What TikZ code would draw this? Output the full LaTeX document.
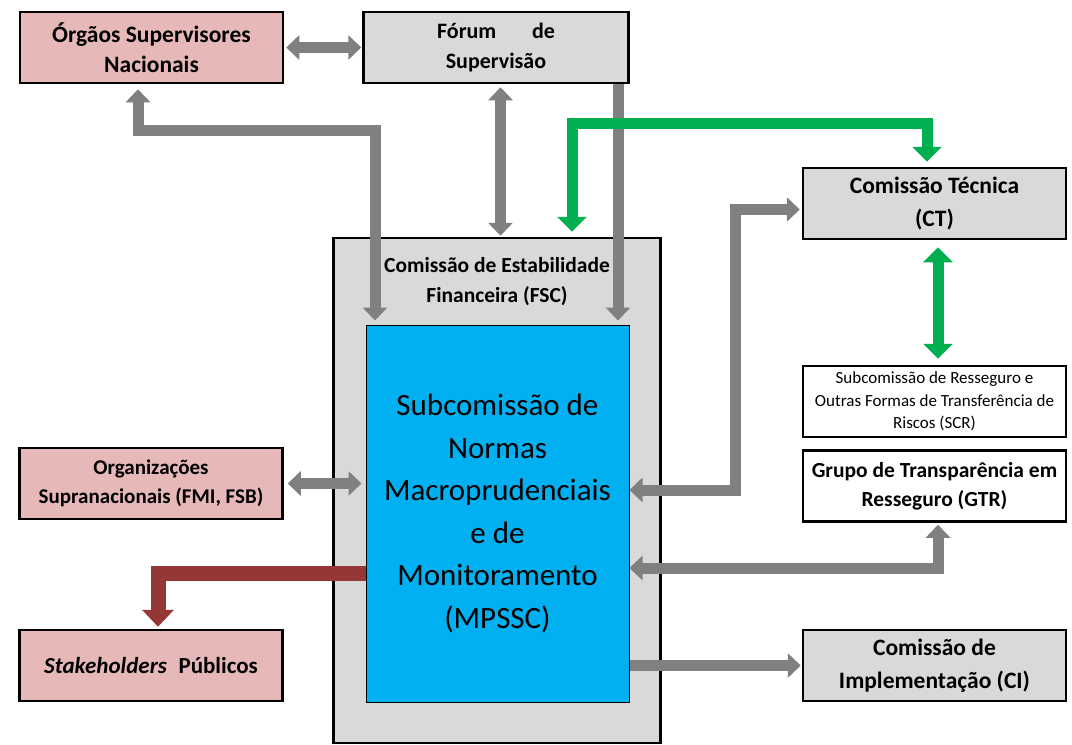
\documentclass[tikz,border=0pt]{standalone}
\usepackage{fontspec}
\setmainfont{Carlito}
\usetikzlibrary{arrows.meta,positioning}
\definecolor{pinkfill}{HTML}{E6B9B8}
\definecolor{greyfill}{HTML}{D9D9D9}
\definecolor{bluefill}{HTML}{00B0F0}
\definecolor{arrgrey}{HTML}{808080}
\definecolor{arrgreen}{HTML}{00B050}
\definecolor{arrred}{HTML}{953735}
\tikzset{
    box/.style={draw,line width=2.5pt,minimum width=263pt,minimum height=71pt,inner sep=0pt,align=center,font=\fontsize{22}{30}\selectfont\bfseries},
    pinkbox/.style={box,fill=pinkfill},
    greybox/.style={box,fill=greyfill},
    whitebox/.style={box,fill=white},
    gtip/.tip={Triangle[length=13pt,width=24pt]},
    ntip/.tip={Triangle[length=15pt,width=29pt]},
    rtip/.tip={Triangle[length=17pt,width=31pt]},
    gone/.style={-gtip,line width=11pt,draw=arrgrey},
    gboth/.style={gtip-gtip,line width=11pt,draw=arrgrey},
    nboth/.style={ntip-ntip,line width=11pt,draw=arrgreen},
    rone/.style={-rtip,line width=15pt,draw=arrred}
}

\begin{document}
\begin{tikzpicture}[x=1pt,y=-1pt]
    \useasboundingbox (0,0) rectangle (1072,745);

    \node[draw,line width=2.5pt,fill=greyfill,minimum width=327pt,minimum height=505pt] (fsc) at (497,490.5) {};
    \node[font=\fontsize{21.5}{30}\selectfont\bfseries,align=center] (fsc text) at (497,282) {Comissão de Estabilidade\\Financeira (FSC)};
    \node[draw,line width=1pt,fill=bluefill,minimum width=263pt,minimum height=377pt,align=center,
          font=\fontsize{31}{42.5}\selectfont] (mpssc) at (497.5,513.5)
          {Subcomissão de\\Normas\\Macroprudenciais\\e de\\Monitoramento\\(MPSSC)};

    \node[pinkbox,font=\fontsize{23.5}{30}\selectfont\bfseries] (orgaos) at (151.5,47.5)  {Órgãos Supervisores\\Nacionais};
    \node[greybox,minimum width=265pt] (forum) at (496,47.5) {Fórum\hspace{1.4em} de\\Supervisão};
    \node[pinkbox,font=\fontsize{21}{29}\selectfont\bfseries] (orgsup) at (151,483.5) {Organizações\\Supranacionais (FMI, FSB)};
    \node[pinkbox,font=\fontsize{23}{30}\selectfont\bfseries] (stake) at (151,665.5) {\textit{Stakeholders}\enspace Públicos};

    \node[greybox,font=\fontsize{23.5}{33}\selectfont\bfseries] (ct) at (934.5,203.5) {Comissão Técnica\\(CT)};
    \node[whitebox,font=\fontsize{17}{22.5}\selectfont] (scr) at (934.5,401.5)
          {Subcomissão de Resseguro e\\Outras Formas de Transferência de\\Riscos (SCR)};
    \node[whitebox,font=\fontsize{21.5}{29}\selectfont\bfseries,below=11pt of scr] (gtr) {Grupo de Transparência em\\Resseguro (GTR)};
    \node[greybox,font=\fontsize{23.5}{33}\selectfont\bfseries] (ci) at (934.5,665.5) {Comissão de\\Implementação (CI)};

    \coordinate (knee o) at (375,130);
    \coordinate (knee g) at (572,123);
    \coordinate (knee c) at (735,490);
    \coordinate (knee t) at (938,568);
    \coordinate (knee r) at (158,573);

    \draw[gboth,shorten <=2pt,shorten >=1pt] (orgaos.east) -- (forum.west);
    \draw[gboth,shorten <=5pt,shorten >=4pt] ([xshift=-13.5pt]orgaos.south) |- (knee o) -- (knee o |- mpssc.north);
    \draw[gboth,shorten <=3pt,shorten >=1pt] ([xshift=4.5pt]forum.south) -- ([xshift=4.5pt]forum.south |- fsc.north);
    \draw[gone,shorten >=4pt] ([xshift=122pt]forum.south) -- ([xshift=122pt]forum.south |- mpssc.north);
    \draw[nboth,line join=miter,shorten <=5pt,shorten >=5pt] (knee g |- fsc.north) -- (knee g) -| ([xshift=-7.5pt]ct.north);
    \draw[nboth,shorten <=7pt,shorten >=6pt] ([xshift=3.5pt]ct.south) -- ([xshift=3.5pt]ct.south |- scr.north);
    \draw[gboth,shorten <=2pt] ([yshift=-6pt]ct.west) -| (knee c) -- (knee c -| mpssc.east);
    \draw[gboth,shorten <=2pt] (knee t |- gtr.south) -- (knee t) -- (knee t -| mpssc.east);
    \draw[gone,shorten >=1pt] (mpssc.east |- ci.west) -- (ci.west);
    \draw[gboth,shorten <=4pt,shorten >=4pt] (orgsup.east) -- (orgsup.east -| mpssc.west);
    \draw[rone,shorten >=2pt] (knee r -| mpssc.west) -- (knee r) -- (knee r |- stake.north);
\end{tikzpicture}
\end{document}
